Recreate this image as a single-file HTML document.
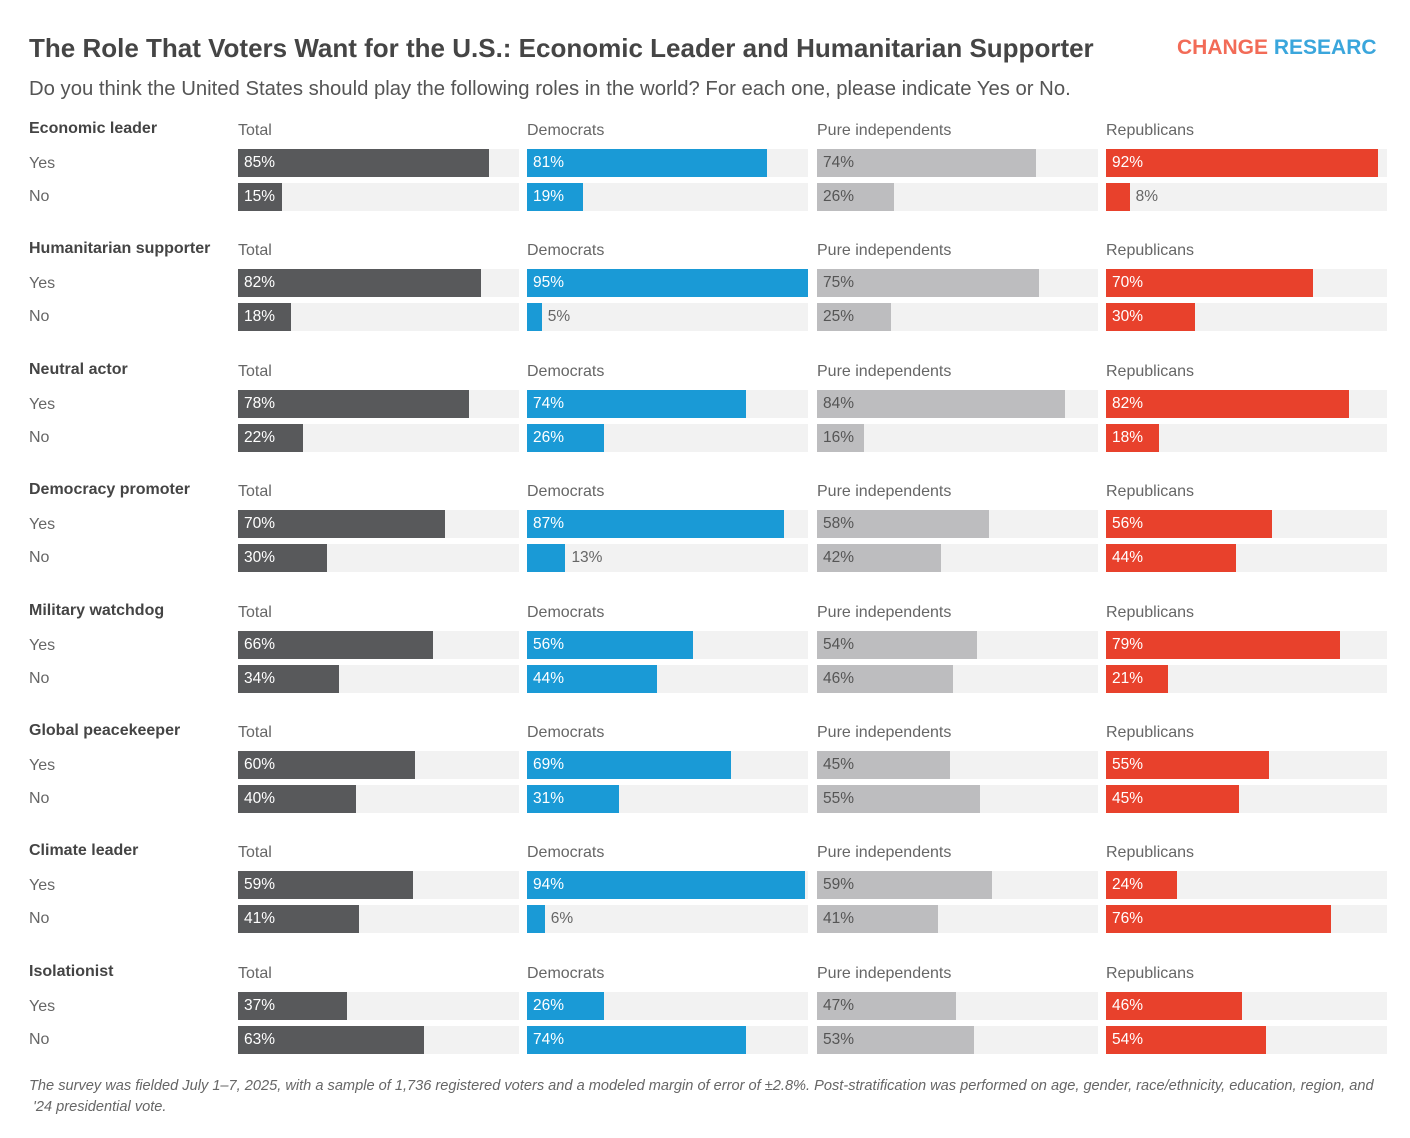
<!DOCTYPE html>
<html><head><meta charset="utf-8">
<style>
body{margin:0;background:#fff;font-family:"Liberation Sans",sans-serif;}
#wrap{position:relative;width:1410px;height:1138px;overflow:hidden;background:#fff;}
.t{position:absolute;white-space:nowrap;}
</style></head><body>
<div id="wrap">
<div class="t" style="left:29px;top:33px;font-size:26px;font-weight:bold;color:#454545;">The Role That Voters Want for the U.S.: Economic Leader and Humanitarian Supporter</div>
<div class="t" style="left:1177px;top:36px;font-size:21px;font-weight:bold;"><span style="color:#f26b57">CHANGE</span> <span style="color:#3aa6dc">RESEARC</span></div>
<div class="t" style="left:29px;top:78px;font-size:20.3px;color:#555;">Do you think the United States should play the following roles in the world? For each one, please indicate Yes or No.</div>
<div class="t" style="left:29px;top:1076px;font-size:14.6px;font-style:italic;color:#666;line-height:21px;">The survey was fielded July 1–7, 2025, with a sample of 1,736 registered voters and a modeled margin of error of ±2.8%. Post-stratification was performed on age, gender, race/ethnicity, education, region, and<br>&nbsp;'24 presidential vote.</div>
</div>
<script>
const roles=["Economic leader","Humanitarian supporter","Neutral actor","Democracy promoter","Military watchdog","Global peacekeeper","Climate leader","Isolationist"];
const groups=["Total","Democrats","Pure independents","Republicans"];
const totalYes=[85,82,78,70,66,60,59,37];
const totalNo=[15,18,22,30,34,40,41,63];
const demYes=[81,95,74,87,56,69,94,26];
const demNo=[19,5,26,13,44,31,6,74];
const indYes=[74,75,84,58,54,45,59,47];
const indNo=[26,25,16,42,46,55,41,53];
const repYes=[92,70,82,56,79,55,24,46];
const repNo=[8,30,18,44,21,45,76,54];
const yesVals=[totalYes,demYes,indYes,repYes];
const noVals=[totalNo,demNo,indNo,repNo];
const colors=["#58595b","#1a9ad6","#bdbdbf","#e8412c"];
const labelCol=["#fff","#fff","#555","#fff"];
const colX=[238,527,817,1106], trackW=281, maxV=95;
const xs=v=>v/maxV*trackW;
const W=document.getElementById('wrap');
function mk(css,txt){const d=document.createElement('div');d.className='t';d.style.cssText=css;if(txt!==undefined)d.textContent=txt;W.appendChild(d);return d;}
roles.forEach((r,i)=>{
  const gy=120+i*120.4;
  let e=mk(`left:29px;top:${gy}px;font-size:16px;font-weight:bold;color:#444;`,r);
  
  
  e=mk(`left:29px;top:${gy+35}px;font-size:16px;color:#666;`,"Yes");
  
  
  e=mk(`left:29px;top:${gy+68}px;font-size:16px;color:#666;`,"No");
  
  
  groups.forEach((g,j)=>{
    const x=colX[j];
    let h=mk(`left:${x}px;top:${gy+2}px;font-size:16px;color:#666;`,g);
    
    
    [[yesVals[j][i],gy+29],[noVals[j][i],gy+63]].forEach(([v,ty])=>{
      const tr=mk(`left:${x}px;top:${ty}px;width:${trackW}px;height:28px;background:#f2f2f2;`);
      
      
      const w=xs(v);
      const b=mk(`left:${x}px;top:${ty}px;width:${w}px;height:28px;background:${colors[j]};`);
      
      
      const inside=v>=14;
      const l=mk(`left:${inside?x+6:x+w+6}px;top:${ty+5}px;font-size:15.5px;color:${inside?labelCol[j]:'#666'};`,v+"%");
      
      
    });
  });
});
</script>
</body></html>
